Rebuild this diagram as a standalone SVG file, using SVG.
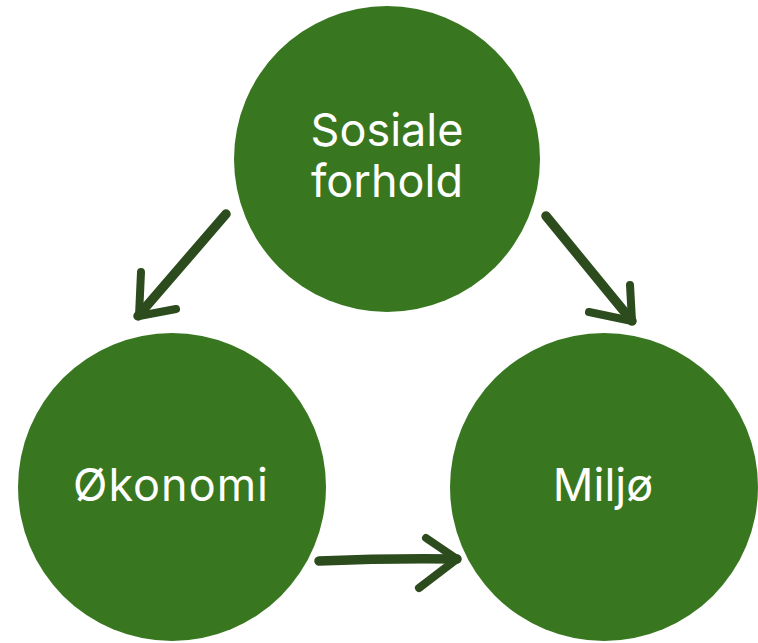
<svg xmlns="http://www.w3.org/2000/svg" width="758" height="643" viewBox="0 0 758 643">
<style>
.node{fill:#387720}
.lbl{fill:#ffffff;font-family:Inter,"Noto Sans","Liberation Sans",sans-serif;font-size:45px;font-weight:400;text-anchor:middle}
.arr{fill:none;stroke:#2d4c1d;stroke-width:8;stroke-linecap:round;stroke-linejoin:round}
.shaft{stroke-width:9.5}
</style>
<rect width="758" height="643" fill="#ffffff"/>
<g id="connectors">
<g id="c1"><path class="arr shaft" d="M226,214 L138,316"/><path class="arr" d="M141,272 L139,316 L176,309"/></g>
<g id="c2"><path class="arr shaft" d="M546,216 L632,321"/><path class="arr" d="M630,285 L632,321 L589,312"/></g>
<g id="c3"><path class="arr shaft" d="M319,561 Q390,558 457,559"/><path class="arr" d="M426,538 L457,559 L419,588"/></g>
</g>
<g id="sosiale"><circle class="node" cx="387" cy="159" r="153"/><text class="lbl" x="387" y="146">Sosiale</text><text class="lbl" x="387" y="197">forhold</text></g>
<g id="okonomi"><circle class="node" cx="172" cy="487" r="154"/><text class="lbl" x="171" y="501" letter-spacing="1">Økonomi</text></g>
<g id="miljo"><circle class="node" cx="604" cy="487" r="154"/><text class="lbl" x="603" y="501">Miljø</text></g>
</svg>
